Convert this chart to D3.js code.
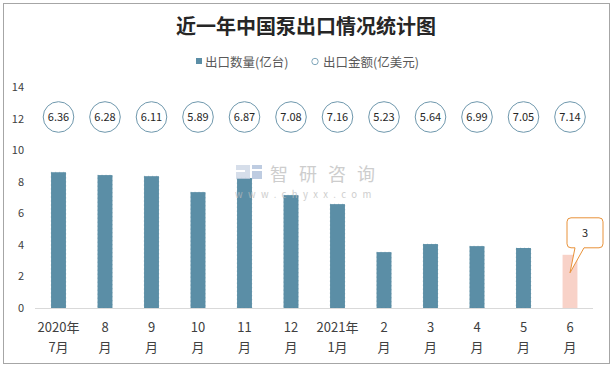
<!DOCTYPE html>
<html><head><meta charset="utf-8">
<script src="https://cdn.jsdelivr.net/npm/d3@7"></script>
<style>
html,body{margin:0;padding:0;background:#fff;}
svg{display:block;}
text{font-family:"Microsoft YaHei","Noto Sans CJK SC","Noto Sans",sans-serif;}
</style></head>
<body><svg id="c" width="613" height="368"></svg>
<script>
// ---- data ----
const categories = [["2020年","7月"],["8","月"],["9","月"],["10","月"],["11","月"],["12","月"],["2021年","1月"],["2","月"],["3","月"],["4","月"],["5","月"],["6","月"]];
const quantity = [8.6, 8.42, 8.35, 7.34, 8.23, 7.15, 6.58, 3.54, 4.05, 3.92, 3.8, 3.37];   // 出口数量(亿台)
const amount = [6.36, 6.28, 6.11, 5.89, 6.87, 7.08, 7.16, 5.23, 5.64, 6.99, 7.05, 7.14];   // 出口金额(亿美元)
const yTicks = [0, 2, 4, 6, 8, 10, 12, 14];
const calloutLabel = ["3"];
const title = "近一年中国泵出口情况统计图";
const legendNames = ["出口数量(亿台)", "出口金额(亿美元)"];

// ---- layout ----
const svg = d3.select("#c");
const markerLevel = 12.1;
const x = d3.scaleBand().domain(d3.range(categories.length)).range([35.25, 593.25]).paddingInner(0.68).paddingOuter(0.34);
const y = d3.scaleLinear().domain([0, 14]).range([308, 87]);
const barColor = "#5b8ea6", lastColor = "#f8d2c8", ink = "#404040";

// frame
svg.append("rect").attr("x", 3.5).attr("y", 3.5).attr("width", 606).attr("height", 360)
  .attr("fill", "#fff").attr("stroke", "#a6a6a6").attr("stroke-width", 1);

// title
svg.append("text").attr("x", 306).attr("y", 34).attr("text-anchor", "middle")
  .attr("font-size", 20).attr("font-weight", "bold").attr("fill", "#262626").text(title);

// legend
const lg = svg.append("g");
lg.append("rect").attr("x", 196).attr("y", 58).attr("width", 6).attr("height", 6).attr("fill", barColor);
lg.append("text").attr("x", 205).attr("y", 66.5).attr("font-size", 12.5).attr("fill", "#595959").text(legendNames[0]);
lg.append("circle").attr("cx", 315).attr("cy", 61.5).attr("r", 3.2).attr("fill", "#fff").attr("stroke", "#7fa6ba").attr("stroke-width", 1);
lg.append("text").attr("x", 323).attr("y", 66.5).attr("font-size", 12.5).attr("fill", "#595959").text(legendNames[1]);

// y axis (labels only)
const yAxis = d3.axisLeft(y).tickValues(yTicks).tickSize(0).tickPadding(0);
const ya = svg.append("g").attr("transform", "translate(24,0)").call(yAxis);
ya.select(".domain").remove();
ya.selectAll("text").attr("font-size", 11).attr("fill", ink).attr("font-family", "'Microsoft YaHei','Noto Sans CJK SC',sans-serif");

// bars
svg.append("g").selectAll("rect").data(quantity).join("rect")
  .attr("x", (d, i) => x(i)).attr("width", x.bandwidth())
  .attr("y", d => y(d)).attr("height", d => y(0) - y(d))
  .attr("fill", (d, i) => i === quantity.length - 1 ? lastColor : barColor)
  .attr("stroke", (d, i) => i === quantity.length - 1 ? "none" : "#3f7690")
  .attr("stroke-opacity", 0.5)
  .attr("stroke-width", 0.5).attr("stroke-dasharray", "1,3");

// baseline
svg.append("line").attr("x1", 35).attr("x2", 593).attr("y1", y(0) + 0.5).attr("y2", y(0) + 0.5)
  .attr("stroke", "#d9d9d9").attr("stroke-width", 1);

// x axis labels
const xa = svg.append("g");
categories.forEach((c, i) => {
  const cx = x(i) + x.bandwidth() / 2;
  xa.append("text").attr("x", cx).attr("y", 332).attr("text-anchor", "middle").attr("font-size", 13).attr("fill", ink).text(c[0]);
  xa.append("text").attr("x", cx).attr("y", 352).attr("text-anchor", "middle").attr("font-size", 13).attr("fill", ink).text(c[1]);
});

// watermark
const wm = svg.append("g").attr("opacity", 0.75);
wm.append("rect").attr("x", 236).attr("y", 165).attr("width", 14).attr("height", 5).attr("fill", "#c9d3e3");
wm.append("rect").attr("x", 245).attr("y", 165).attr("width", 5).attr("height", 10).attr("fill", "#c9d3e3");
wm.append("rect").attr("x", 236).attr("y", 172).attr("width", 14).attr("height", 7).attr("fill", "#c9d3e3");
wm.append("rect").attr("x", 252).attr("y", 165).attr("width", 10).attr("height", 4).attr("fill", "#a9bcd8");
wm.append("rect").attr("x", 252).attr("y", 171).attr("width", 10).attr("height", 8).attr("fill", "#a9bcd8");
wm.append("text").attr("x", 270).attr("y", 181).attr("font-size", 18).attr("letter-spacing", 11).attr("fill", "#bdbdbd").text("智研咨询");
wm.append("text").attr("x", 235).attr("y", 198).attr("font-size", 9.5).attr("letter-spacing", 5.4).attr("fill", "#bdbdbd").text("www.chyxx.com");

// amount markers
const mg = svg.append("g").selectAll("g").data(amount).join("g")
  .attr("transform", (d, i) => `translate(${x(i) + x.bandwidth() / 2},${y(markerLevel)})`);
mg.append("circle").attr("r", 15.3).attr("fill", "#fff").attr("stroke", "#6f98ad").attr("stroke-width", 1);
mg.append("text").attr("text-anchor", "middle").attr("dy", "0.36em").attr("font-size", 11).attr("fill", "#262626")
  .text(d => d3.format(".2f")(d));

// callout on last bar
const li = quantity.length - 1;
const bx = x(li) + x.bandwidth() / 2;
const tipY = y(quantity[li]) + 18;
const bL = bx - 3, bR = bx + 33, bT = y(quantity[li]) - 37, bB = bT + 30, r = 4;
const pth = `M${bL + r},${bT} H${bR - r} Q${bR},${bT} ${bR},${bT + r} V${bB - r} Q${bR},${bB} ${bR - r},${bB}
  H${bx + 14} L${bx},${tipY} L${bx + 5},${bB} H${bL + r} Q${bL},${bB} ${bL},${bB - r} V${bT + r} Q${bL},${bT} ${bL + r},${bT} Z`;
svg.append("path").attr("d", pth).attr("fill", "#fff").attr("stroke", "#e8923a").attr("stroke-width", 1);
svg.append("text").attr("x", (bL + bR) / 2).attr("y", (bT + bB) / 2).attr("dy", "0.36em").attr("text-anchor", "middle")
  .attr("font-size", 11).attr("fill", "#262626").text(calloutLabel[0]);
</script></body></html>
